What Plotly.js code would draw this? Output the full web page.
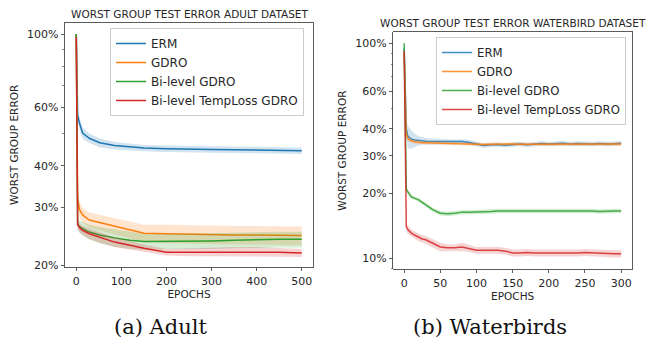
<!DOCTYPE html>
<html><head><meta charset="utf-8">
<script src="https://cdn.plot.ly/plotly-3.0.1.min.js"></script>
<style>html,body{margin:0;padding:0;background:#fff}#chart{width:646px;height:339px}</style>
</head><body><div id="chart"></div>
<script>
const seriesNames = ["ERM", "GDRO", "Bi-level GDRO", "Bi-level TempLoss GDRO"];
const seriesColors = ["#1f77b4", "#ff7f0e", "#2ca02c", "#d62728"];
const bandColors = ["rgba(31,119,180,0.2)", "rgba(255,127,14,0.2)", "rgba(44,160,44,0.2)", "rgba(214,39,40,0.2)"];

// ---- Adult (values in %) ----
const adultEpochs = [0, 3, 7, 14, 29, 52, 85, 119, 150, 200, 250, 300, 350, 400, 450, 500];
const adultERM     = [100, 57, 53.8, 50.2, 48.4, 46.9, 46.0, 45.5, 45.2, 45.0, 45.0, 44.8, 44.7, 44.6, 44.5, 44.4];
const adultERMSd   = [0, 2.2, 2.2, 2.0, 1.6, 1.4, 1.2, 1.1, 1.0, 1.0, 1.0, 1.0, 1.0, 1.0, 1.0, 1.0];
const adultGDRO    = [100, 32, 29.5, 28.4, 27.4, 26.9, 26.2, 25.6, 25.0, 24.9, 24.8, 24.7, 24.7, 24.7, 24.65, 24.6];
const adultGDROSd  = [0, 2.0, 1.6, 1.5, 1.5, 1.5, 1.5, 1.5, 1.5, 1.6, 1.6, 1.6, 1.6, 1.6, 1.6, 1.6];
const adultBi      = [100, 26.6, 26.2, 25.8, 25.2, 24.7, 24.2, 23.8, 23.6, 23.6, 23.6, 23.7, 23.8, 23.9, 23.95, 23.95];
const adultBiSd    = [0, 1.0, 1.1, 1.2, 1.3, 1.4, 1.5, 1.4, 1.3, 1.3, 1.3, 1.3, 1.3, 1.3, 1.3, 1.3];
const adultTemp    = [98, 26.5, 26.0, 25.5, 24.9, 24.3, 23.5, 23.0, 22.5, 21.9, 21.9, 22.0, 22.0, 22.0, 21.9, 21.8];
const adultTempSd  = [0, 0.8, 0.8, 0.8, 0.9, 0.9, 0.8, 0.7, 0.6, 0.5, 0.6, 0.7, 0.7, 0.7, 0.6, 0.6];

// ---- Waterbirds (values in %) ----
const wbEpochs = [0, 3, 5, 10, 15, 20, 25, 30, 40, 50, 60, 70, 80, 90, 100, 110, 120, 130, 140, 150, 160, 170, 180, 190, 200, 210, 220, 230, 240, 250, 260, 270, 280, 290, 300];
const wbERM    = [95, 40, 37, 35.8, 35.5, 35.3, 35.2, 35.0, 34.9, 34.9, 34.8, 34.8, 34.9, 34.6, 34.0, 33.5, 33.7, 33.8, 33.6, 33.9, 34.0, 33.7, 34.0, 34.2, 34.0, 34.2, 34.3, 34.0, 34.2, 34.1, 34.0, 34.2, 34.0, 34.1, 34.3];
const wbERMSd  = [0, 4, 4.5, 3.5, 2.5, 1.8, 1.5, 1.3, 1.1, 1.0, 0.9, 0.9, 0.9, 0.9, 0.9, 0.8, 0.8, 0.8, 0.8, 0.8, 0.8, 0.8, 0.8, 0.8, 0.8, 0.8, 0.8, 0.8, 0.8, 0.8, 0.8, 0.8, 0.8, 0.8, 0.8];
const wbGDRO   = [90, 38, 36, 35.2, 34.8, 34.6, 34.5, 34.5, 34.4, 34.3, 34.3, 34.2, 34.2, 34.0, 33.9, 33.8, 33.9, 34.0, 33.9, 34.0, 33.9, 33.9, 34.0, 33.8, 33.9, 33.8, 33.9, 34.0, 33.9, 33.8, 33.9, 34.0, 33.9, 33.9, 34.0];
const wbGDROSd = [0, 1.0, 0.9, 0.8, 0.7, 0.6, 0.6, 0.6, 0.6, 0.6, 0.6, 0.6, 0.6, 0.6, 0.6, 0.6, 0.6, 0.6, 0.6, 0.6, 0.6, 0.6, 0.6, 0.6, 0.6, 0.6, 0.6, 0.6, 0.6, 0.6, 0.6, 0.6, 0.6, 0.6, 0.6];
const wbBi     = [100, 21, 20.4, 19.3, 19.0, 18.7, 18.2, 17.7, 16.8, 16.2, 16.1, 16.2, 16.4, 16.4, 16.4, 16.4, 16.5, 16.6, 16.6, 16.7, 16.7, 16.6, 16.7, 16.7, 16.6, 16.6, 16.7, 16.6, 16.6, 16.7, 16.6, 16.5, 16.6, 16.6, 16.6];
const wbBiSd   = [0, 0.5, 0.5, 0.4, 0.4, 0.4, 0.4, 0.4, 0.4, 0.4, 0.4, 0.4, 0.4, 0.4, 0.4, 0.4, 0.4, 0.4, 0.4, 0.4, 0.4, 0.4, 0.4, 0.4, 0.4, 0.4, 0.4, 0.4, 0.4, 0.4, 0.4, 0.4, 0.4, 0.4, 0.4];
const wbTemp   = [92, 14.0, 13.6, 13.1, 12.8, 12.5, 12.3, 12.2, 11.7, 11.3, 11.2, 11.2, 11.3, 11.1, 10.9, 10.9, 10.9, 10.9, 10.8, 10.6, 10.6, 10.65, 10.6, 10.6, 10.6, 10.6, 10.55, 10.6, 10.6, 10.65, 10.6, 10.55, 10.5, 10.5, 10.5];
const wbTempSd = [0, 0.6, 0.6, 0.5, 0.5, 0.5, 0.5, 0.5, 0.5, 0.5, 0.4, 0.4, 0.5, 0.4, 0.4, 0.4, 0.4, 0.4, 0.4, 0.4, 0.4, 0.4, 0.4, 0.4, 0.4, 0.4, 0.4, 0.4, 0.4, 0.4, 0.4, 0.4, 0.4, 0.4, 0.4];

const adultTickVals = [20, 30, 40, 60, 100];
const adultTickText = ["20%", "30%", "40%", "60%", "100%"];
const wbTickVals = [10, 20, 30, 40, 60, 100];
const wbTickText = ["10%", "20%", "30%", "40%", "60%", "100%"];
const adultXTicks = [0, 100, 200, 300, 400, 500];
const wbXTicks = [0, 50, 100, 150, 200, 250, 300];

const titleA = "WORST GROUP TEST ERROR ADULT DATASET";
const titleB = "WORST GROUP TEST ERROR WATERBIRD DATASET";
const captionA = "(a) Adult";
const captionB = "(b) Waterbirds";

function addSeries(traces, x, mean, sd, i, xa, ya, legendName, lineOpacity) {
  const lo = mean.map((v, k) => v - sd[k]);
  const hi = mean.map((v, k) => v + sd[k]);
  traces.push({x: x, y: lo, xaxis: xa, yaxis: ya, type: "scatter", mode: "lines",
    line: {width: 0, color: seriesColors[i]}, showlegend: false, hoverinfo: "skip"});
  traces.push({x: x, y: hi, xaxis: xa, yaxis: ya, type: "scatter", mode: "lines",
    line: {width: 0, color: seriesColors[i]}, fill: "tonexty", fillcolor: bandColors[i],
    showlegend: false, hoverinfo: "skip"});
  traces.push({x: x, y: mean, xaxis: xa, yaxis: ya, type: "scatter", mode: "lines",
    name: seriesNames[i], legend: legendName, showlegend: true, opacity: lineOpacity,
    line: {width: 1.5, color: seriesColors[i]}});
}

const traces = [];
const adultMeans = [adultERM, adultGDRO, adultBi, adultTemp];
const adultSds = [adultERMSd, adultGDROSd, adultBiSd, adultTempSd];
const wbMeans = [wbERM, wbGDRO, wbBi, wbTemp];
const wbSds = [wbERMSd, wbGDROSd, wbBiSd, wbTempSd];
for (let i = 0; i < 4; i++) addSeries(traces, adultEpochs, adultMeans[i], adultSds[i], i, "x", "y", "legend", 1);
for (let i = 0; i < 4; i++) addSeries(traces, wbEpochs, wbMeans[i], wbSds[i], i, "x2", "y2", "legend2", 0.85);

const W = 646, H = 339;
const txt = "#262626";
const tickFont = {family: "DejaVu Sans", size: 11, color: txt};
const labFont = {family: "DejaVu Sans", size: 10.5, color: txt};
function xax(l, r, range, ticks) {
  return {domain: [l / W, r / W], range: range, tickmode: "array", tickvals: ticks,
    ticks: "outside", ticklen: 3.5, tickwidth: 0.8, tickcolor: "#333", showline: true, linecolor: "#333",
    linewidth: 0.8, mirror: true, showgrid: false, zeroline: false, tickfont: tickFont,
    title: {text: "EPOCHS", font: labFont, standoff: 4}, automargin: false};
}
function yax(t, b, range, tv, tt, minorVals, anchor) {
  return {domain: [1 - b / H, 1 - t / H], type: "log", range: range, tickmode: "array",
    tickvals: tv, ticktext: tt, ticks: "outside", ticklen: 3.5, tickwidth: 0.8, tickcolor: "#333",
    minor: {tickmode: "array", tickvals: minorVals, ticks: "outside", ticklen: 2, tickwidth: 0.6, tickcolor: "#333", showgrid: false},
    showline: true, linecolor: "#333", linewidth: 0.8, mirror: true, showgrid: false, zeroline: false,
    tickfont: tickFont, anchor: anchor,
    title: {text: "WORST GROUP ERROR", font: labFont, standoff: 6}, automargin: false};
}

const layout = {
  width: W, height: H, margin: {l: 0, r: 0, t: 0, b: 0},
  paper_bgcolor: "#fff", plot_bgcolor: "#fff",
  font: {family: "DejaVu Sans", color: txt},
  xaxis: Object.assign(xax(65, 313, [-25, 525], adultXTicks), {anchor: "y"}),
  yaxis: yax(22.7, 267, [Math.log10(19.76), Math.log10(108.2)], adultTickVals, adultTickText, [50, 70, 80, 90], "x"),
  xaxis2: Object.assign(xax(393.3, 632, [-15, 315], wbXTicks), {anchor: "y2"}),
  yaxis2: yax(32.3, 269, [Math.log10(8.92), Math.log10(112.5)], wbTickVals, wbTickText, [9, 50, 70, 80, 90], "x2"),
  legend: {x: 110 / W, y: 1 - 28 / H, xanchor: "left", yanchor: "top", bgcolor: "rgba(255,255,255,0.8)",
    bordercolor: "#cccccc", borderwidth: 1, traceorder: "normal",
    font: {family: "DejaVu Sans", size: 12, color: txt}, itemwidth: 30},
  legend2: {x: 436 / W, y: 1 - 37 / H, xanchor: "left", yanchor: "top", bgcolor: "rgba(255,255,255,0.8)",
    bordercolor: "#cccccc", borderwidth: 1, traceorder: "normal",
    font: {family: "DejaVu Sans", size: 11.7, color: txt}, itemwidth: 30},
  annotations: [
    {text: titleA, xref: "paper", yref: "paper", x: 189 / W, y: 1 - 14 / H, showarrow: false, xanchor: "center", yanchor: "middle", font: {family: "DejaVu Sans", size: 10.5, color: txt}},
    {text: titleB, xref: "paper", yref: "paper", x: 512.7 / W, y: 1 - 23 / H, showarrow: false, xanchor: "center", yanchor: "middle", font: {family: "DejaVu Sans", size: 10.5, color: txt}},
    {text: captionA, xref: "paper", yref: "paper", x: 160 / W, y: 1 - 327 / H, showarrow: false, xanchor: "center", yanchor: "middle", font: {family: "DejaVu Serif", size: 21, color: "#111"}},
    {text: captionB, xref: "paper", yref: "paper", x: 490 / W, y: 1 - 327 / H, showarrow: false, xanchor: "center", yanchor: "middle", font: {family: "DejaVu Serif", size: 21, color: "#111"}}
  ],
  showlegend: true
};

Plotly.newPlot("chart", traces, layout, {staticPlot: true, displayModeBar: false});
</script>
</body></html>
